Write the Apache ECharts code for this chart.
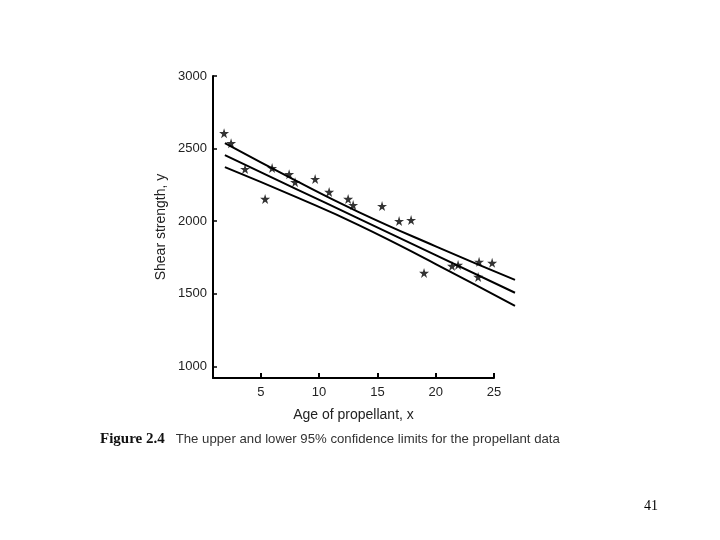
<!DOCTYPE html>
<html>
<head>
<meta charset="utf-8">
<script src="https://cdn.jsdelivr.net/npm/echarts@6/dist/echarts.min.js"></script>
<style>html,body{margin:0;padding:0;background:#fff}#c{width:720px;height:540px}</style>
</head>
<body>
<div id="c"></div>
<script>
// Data
const ages = [1.85, 2.45, 3.65, 5.37, 5.97, 7.43, 7.94, 9.66, 10.86, 12.49, 12.92, 15.40, 16.86, 17.89, 19.0, 21.4, 21.92, 23.72, 24.84, 23.64];
const strengths = [2606, 2537, 2359, 2153, 2366, 2324, 2269, 2290, 2201, 2153, 2111, 2104, 2001, 2008, 1644, 1692, 1699, 1720, 1713, 1616];
const lineX = [1.92, 8, 13.4, 20, 26.8];
const fitted = [2455, 2223, 2018, 1766, 1507];
const upper = [2537, 2279, 2063, 1827, 1596];
const lower = [2372, 2167, 1973, 1705, 1417];
const xTicks = [5, 10, 15, 20, 25];
const yTicks = [1000, 1500, 2000, 2500, 3000];

const pts = ages.map((a, i) => [a, strengths[i]]);
const mk = arr => lineX.map((x, i) => [x, arr[i]]);
const star = 'path://M50,0 L61,35 L98,35 L68,57 L79,91 L50,70 L21,91 L32,57 L2,35 L39,35 Z';
const lbl = {fontFamily: 'Liberation Sans', fontSize: 13, color: '#222', formatter: v => String(v)};
const nameStyle = {fontFamily: 'Liberation Sans', fontSize: 14, color: '#222'};

const chart = echarts.init(document.getElementById('c'));
const lineSeries = (d) => ({
  type: 'line', data: d, showSymbol: false, smooth: true,
  xAxisIndex: 1, yAxisIndex: 1,
  lineStyle: {color: '#000', width: 2}, silent: true, z: 2
});
chart.setOption({
  animation: false,
  grid: [
    {left: 213, right: 226, top: 76, bottom: 162, containLabel: false},
    {left: 213, right: 205, top: 76, bottom: 162, containLabel: false}
  ],
  xAxis: [{
    type: 'value', min: 0.9, max: 25, gridIndex: 0,
    name: 'Age of propellant, x', nameLocation: 'middle', nameGap: 30,
    nameTextStyle: nameStyle,
    axisLine: {lineStyle: {color: '#000', width: 2}},
    axisTick: {inside: true, length: 5, customValues: xTicks, lineStyle: {color: '#000', width: 2}},
    axisLabel: Object.assign({customValues: xTicks, margin: 8}, lbl),
    splitLine: {show: false}
  }, {
    type: 'value', min: 0.9, max: 26.8, gridIndex: 1, show: false
  }],
  yAxis: [{
    type: 'value', min: 920, max: 3000, gridIndex: 0,
    name: 'Shear strength, y', nameLocation: 'middle', nameGap: 45,
    nameTextStyle: nameStyle,
    axisLine: {show: true, lineStyle: {color: '#000', width: 2}},
    axisTick: {show: true, inside: true, length: 4, customValues: yTicks, lineStyle: {color: '#000', width: 1.5}},
    axisLabel: Object.assign({customValues: yTicks, margin: 6}, lbl),
    splitLine: {show: false}
  }, {
    type: 'value', min: 920, max: 3000, gridIndex: 1, show: false
  }],
  series: [
    lineSeries(mk(upper)),
    lineSeries(mk(fitted)),
    lineSeries(mk(lower)),
    {type: 'scatter', data: pts, symbol: star, symbolSize: 10, itemStyle: {color: '#000'}, z: 3, clip: false}
  ],
  graphic: [
    {type: 'text', left: 100, top: 432, style: {
      text: '{b|Figure 2.4}{n|   The upper and lower 95% confidence limits for the propellant data}',
      rich: {
        b: {fontFamily: 'Liberation Serif', fontWeight: 'bold', fontSize: 15, fill: '#111'},
        n: {fontFamily: 'Liberation Sans', fontSize: 13.2, fill: '#333'}
      }
    }},
    {type: 'text', left: 644, top: 499, style: {text: '41', fontFamily: 'Liberation Serif', fontSize: 14, fill: '#000'}}
  ]
});
</script>
</body>
</html>
